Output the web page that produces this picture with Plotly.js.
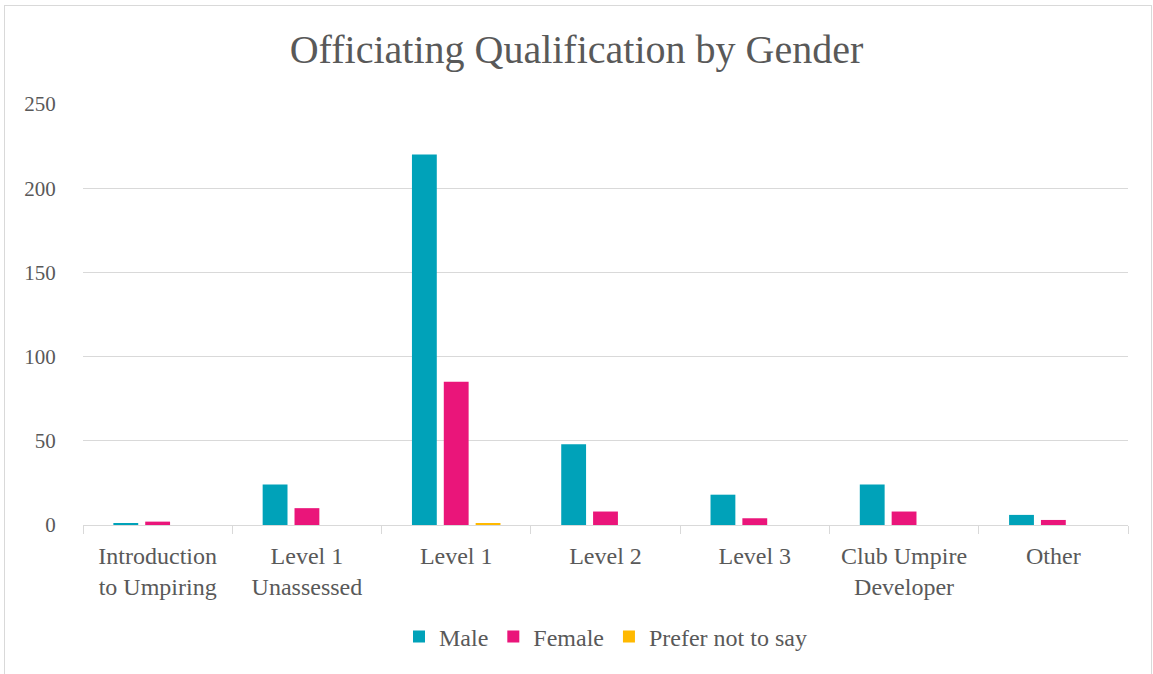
<!DOCTYPE html>
<html>
<head>
<meta charset="utf-8">
<script src="https://cdn.plot.ly/plotly-3.0.1.min.js"></script>
<style>
  html, body { margin: 0; padding: 0; background: #fff; }
  #chart { width: 1153px; height: 674px; }
  #frame { position: absolute; left: 4px; top: 5px; width: 1146px; height: 672px; border: 1px solid #d9d9d9; pointer-events: none; }
</style>
</head>
<body>
<div id="chart"></div>
<div id="frame"></div>
<script>
const categories = ["Introduction<br>to Umpiring", "Level 1<br>Unassessed", "Level 1", "Level 2", "Level 3", "Club Umpire<br>Developer", "Other"];
const categoryKeys = ["Introduction to Umpiring", "Level 1 Unassessed", "Level 1 ", "Level 2", "Level 3", "Club Umpire Developer", "Other"];
const maleValues = [1, 24, 220, 48, 18, 24, 6];
const femaleValues = [2, 10, 85, 8, 4, 8, 3];
const preferNotValues = [0, 0, 1, 0, 0, 0, 0];
const seriesNames = ["Male", "Female", "Prefer not to say"];
const yTickValues = [0, 50, 100, 150, 200, 250];

const colors = ["#00A2B9", "#EA157A", "#FFB900"];
const fontFam = "Liberation Serif, DejaVu Serif, serif";

const traces = [maleValues, femaleValues, preferNotValues].map((vals, i) => ({
  type: "bar",
  name: seriesNames[i],
  x: categoryKeys,
  y: vals,
  marker: { color: colors[i] },
  hoverinfo: "x+y+name"
}));

const layout = {
  width: 1153,
  height: 674,
  paper_bgcolor: "#ffffff",
  plot_bgcolor: "#ffffff",
  margin: { l: 83, r: 25, t: 104, b: 149 },
  title: {
    text: "Officiating Qualification by Gender",
    font: { family: fontFam, size: 40, color: "#595959" },
    x: 0.5, xanchor: "center",
    y: 0.928, yanchor: "middle"
  },
  barmode: "group",
  bargap: 0.36,
  bargroupgap: 0.22,
  xaxis: {
    type: "category",
    tickvals: categoryKeys,
    ticktext: categories,
    showgrid: false,
    showline: true,
    linecolor: "#d9d9d9",
    linewidth: 1,
    ticks: "outside",
    tickson: "boundaries",
    ticklen: 8,
    tickcolor: "#d9d9d9",
    ticklabelstandoff: 9,
    tickfont: { family: fontFam, size: 24, color: "#595959" },
    zeroline: false,
    fixedrange: true
  },
  yaxis: {
    range: [0, 250],
    tickvals: yTickValues,
    ticktext: yTickValues.map(String),
    showgrid: true,
    gridcolor: "#d9d9d9",
    gridwidth: 1,
    showline: false,
    zeroline: false,
    ticks: "outside",
    ticklen: 22,
    tickcolor: "rgba(0,0,0,0)",
    tickfont: { family: fontFam, size: 21, color: "#595959" },
    fixedrange: true
  },
  legend: {
    orientation: "h",
    x: 0.5, xanchor: "center",
    y: -0.266, yanchor: "middle",
    font: { family: fontFam, size: 24, color: "#595959" },
    traceorder: "normal",
    itemwidth: 30
  },
  showlegend: true
};

Plotly.newPlot("chart", traces, layout, { displayModeBar: false, staticPlot: false });
</script>
</body>
</html>
